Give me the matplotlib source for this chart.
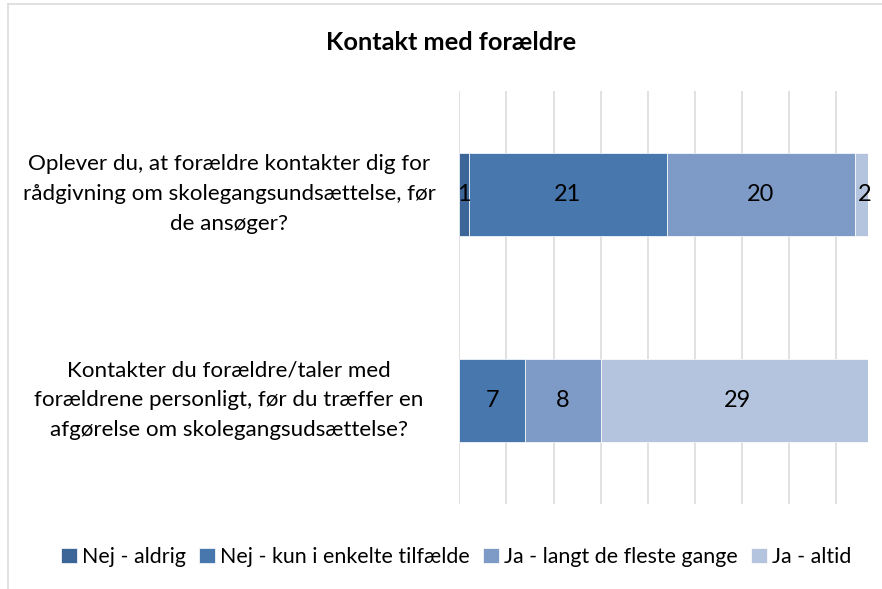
import matplotlib
matplotlib.use("Agg")
import matplotlib.pyplot as plt
from matplotlib.lines import Line2D

# ---- data ----
categories = [
    "Oplever du, at forældre kontakter dig for\nrådgivning om skolegangsundsættelse, før\nde ansøger?",
    "Kontakter du forældre/taler med\nforældrene personligt, før du træffer en\nafgørelse om skolegangsudsættelse?",
]
series_names = ["Nej - aldrig", "Nej - kun i enkelte tilfælde", "Ja - langt de fleste gange", "Ja - altid"]
nej_aldrig = [1, 0]
nej_kun = [21, 7]
ja_langt = [20, 8]
ja_altid = [2, 29]
title = "Kontakt med forældre"
grid_ticks = [0, 5, 10, 15, 20, 25, 30, 35, 40]

colors = ["#3C6598", "#4877AE", "#7E9BC7", "#B4C4DE"]
FONT = "Lato"

W, H = 882, 589
fig = plt.figure(figsize=(W / 100, H / 100), dpi=100)
renderer = fig.canvas.get_renderer()


def fit_size(text, target_px, weight="normal", base=14):
    t = fig.text(0, 0, text, fontsize=base, family=FONT, weight=weight)
    w = t.get_window_extent(renderer).width
    t.remove()
    return base * target_px / w


lab_fs = fit_size("Oplever du, at forældre kontakter dig for", 403)
title_fs = fit_size(title, 253, weight="bold")
leg_fs = fit_size("Nej - aldrig", 104)

ax = fig.add_axes([459.3 / W, 1 - 504 / H, (867.7 - 459.3) / W, (504 - 91) / H])
series = [nej_aldrig, nej_kun, ja_langt, ja_altid]
ypos = list(range(len(categories)))
left = [0] * len(categories)
for name, vals, c in zip(series_names, series, colors):
    bars = ax.barh(ypos, vals, left=left, height=0.40, color=c, edgecolor="white",
                   linewidth=0.5, label=name, zorder=3)
    for b, v in zip(bars, vals):
        if v > 0:
            ax.text(b.get_x() + b.get_width() / 2, b.get_y() + b.get_height() / 2, str(v),
                    ha="center", va="center", fontsize=lab_fs * 1.05, family=FONT,
                    color="#000000", zorder=4, clip_on=False)
    left = [l + v for l, v in zip(left, vals)]

ax.set_xlim(0, 43.35)
ax.set_ylim(len(categories) - 0.5, -0.5)
ax.set_xticks(grid_ticks)
ax.set_yticks([])
ax.tick_params(axis="x", length=0, labelbottom=False)
ax.grid(axis="x", color="#D9D9D9", linewidth=1.1, zorder=0)
for s in ax.spines.values():
    s.set_visible(False)

# category labels
cat_y = [194, 400]
for cat, yy in zip(categories, cat_y):
    fig.text(229 / W, 1 - yy / H, cat, ha="center", va="center", multialignment="center",
             fontsize=lab_fs, family=FONT, linespacing=1.62, color="#000000")

# title
fig.text(451.5 / W, 1 - 42 / H, title, ha="center", va="center", fontsize=title_fs,
         family=FONT, weight="bold", color="#000000")

# legend
handles, labels = ax.get_legend_handles_labels()
fig.legend(handles, labels, loc="center", bbox_to_anchor=(456 / W, 1 - 557 / H), ncol=4,
           frameon=False, prop={"family": FONT, "size": leg_fs}, handlelength=0.75,
           handleheight=0.75, handletextpad=0.25, columnspacing=0.6, borderaxespad=0)

# chart border (cropped)
bc = "#D9D9D9"
fig.add_artist(Line2D([7.5 / W, 7.5 / W], [0, 1 - 3.5 / H], transform=fig.transFigure,
                      color=bc, linewidth=1.1))
fig.add_artist(Line2D([7.5 / W, 1], [1 - 3.5 / H, 1 - 3.5 / H], transform=fig.transFigure,
                      color=bc, linewidth=1.1))

fig.savefig("out.png", dpi=100, facecolor="white")
